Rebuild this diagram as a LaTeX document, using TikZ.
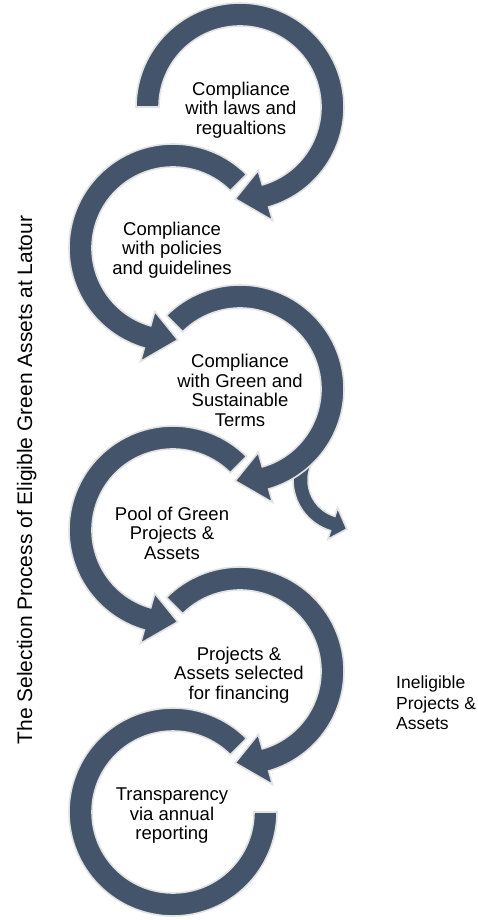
\documentclass[tikz,border=0pt]{standalone}
\usepackage{fontspec}
\setmainfont{Liberation Sans}
\definecolor{ringfill}{RGB}{68,84,106}
\definecolor{ringedge}{RGB}{226,226,226}
\tikzset{
  ring/.style={fill=ringfill, draw=ringedge, line width=1.6pt, line join=miter},
  steptext/.style={align=center, inner sep=0pt, font=\fontsize{18.5}{19.5}\selectfont},
}
\begin{document}
\begin{tikzpicture}[x=1pt,y=1pt]
\useasboundingbox (0,0) rectangle (477,-920);
\fill[white] (0,0) rectangle (477,-920);

% ring 6 (last, no arrowhead)
\path[ring, shift={(173,-812)}] (45:104) arc[start angle=45, end angle=360, radius=104]
  -- (0:81) arc[start angle=360, end angle=45, radius=81] -- cycle;
% ring 5
\path[ring, shift={(240,-671)}] (135:104) arc[start angle=135, end angle=-74, radius=104]
  -- (-74:118) -- (-93:92) -- (-74:66) -- (-74:81) arc[start angle=-74, end angle=135, radius=81] -- cycle;
% ring 4
\path[ring, shift={(173,-530)}] (45:104) arc[start angle=45, end angle=254, radius=104]
  -- (254:118) -- (273:92) -- (254:66) -- (254:81) arc[start angle=254, end angle=45, radius=81] -- cycle;
% branch arrow (ineligible)
\path[ring, shift={(346,-480)}] (160:53) arc[start angle=160, end angle=253, radius=53]
  -- (253:62) -- (271:49) -- (253:29) -- (253:38) arc[start angle=253, end angle=160, radius=38] -- cycle;
% ring 3
\path[ring, shift={(240,-389)}] (135:104) arc[start angle=135, end angle=-74, radius=104]
  -- (-74:118) -- (-93:92) -- (-74:66) -- (-74:81) arc[start angle=-74, end angle=135, radius=81] -- cycle;
% ring 2
\path[ring, shift={(173,-248)}] (45:104) arc[start angle=45, end angle=254, radius=104]
  -- (254:118) -- (273:92) -- (254:66) -- (254:81) arc[start angle=254, end angle=45, radius=81] -- cycle;
% ring 1
\path[ring, shift={(240,-107)}] (180:104) arc[start angle=180, end angle=-74, radius=104]
  -- (-74:118) -- (-93:92) -- (-74:66) -- (-74:81) arc[start angle=-74, end angle=180, radius=81] -- cycle;

\node[steptext] (s1) at (241,-110) {Compliance\\with laws and\\regualtions};
\node[steptext] (s2) at (172,-250) {Compliance\\with policies\\and guidelines};
\node[steptext] (s3) at (240,-390.5) {Compliance\\with Green and\\Sustainable\\Terms};
\node[steptext] (s4) at (172,-533) {Pool of Green\\Projects \&\\Assets};
\node[steptext] (s5) at (239,-675) {Projects \&\\Assets selected\\for financing};
\node[steptext] (s6) at (172,-816) {Transparency\\via annual\\reporting};

\node[align=left, inner sep=0pt, anchor=west, font=\fontsize{17.5}{20.5}\selectfont] (inel) at (396,-703) {Ineligible\\Projects \&\\Assets};

\node[rotate=90, inner sep=0pt, font=\fontsize{21}{24}\selectfont] (title) at (26.6,-480) {The Selection Process of Eligible Green Assets at Latour};
\end{tikzpicture}
\end{document}
